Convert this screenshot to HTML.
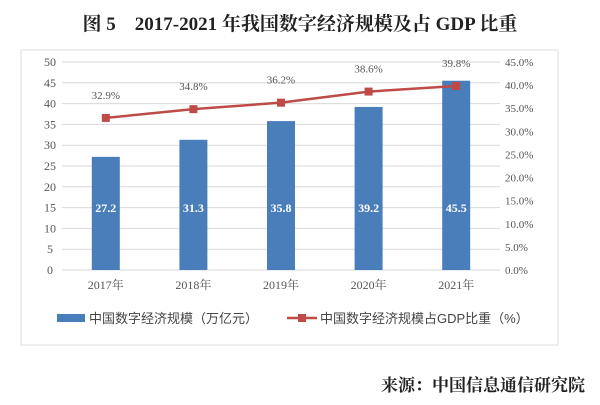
<!DOCTYPE html>
<html><head><meta charset="utf-8"><style>
body{margin:0;background:#fff;width:600px;height:400px;overflow:hidden;font-family:"Liberation Serif","Noto Serif CJK SC",serif}
</style></head><body>
<svg width="600" height="400">
<text x="300" y="30" text-anchor="middle" font-size="19" font-weight="bold" fill="#222" font-family="Liberation Serif, Noto Serif CJK SC, serif">图 5　2017-2021 年我国数字经济规模及占 GDP 比重</text>
<rect x="21" y="50" width="537" height="295" fill="#fff" stroke="#ddd"/>
<g id="grid"></g><g id="bars"></g><g id="line"></g><g id="labels"></g>
<g>
<rect x="57" y="314" width="28" height="8" fill="#4a7ebb"/>
<text x="89" y="323" font-size="13" fill="#444" font-family="Liberation Sans, Noto Sans CJK SC, sans-serif">中国数字经济规模（万亿元）</text>
<line x1="287" y1="318" x2="317" y2="318" stroke="#be4b48" stroke-width="2.5"/>
<rect x="298" y="314" width="8" height="8" fill="#be4b48"/>
<text x="320" y="323" font-size="13" fill="#444" font-family="Liberation Sans, Noto Sans CJK SC, sans-serif">中国数字经济规模占GDP比重（%）</text>
</g>
<text x="585" y="391" text-anchor="end" font-size="17" font-weight="bold" fill="#222" font-family="Noto Serif CJK SC, serif">来源：中国信息通信研究院</text>
</svg>
<script>
const categories=["2017年","2018年","2019年","2020年","2021年"];
const scaleValues=[27.2,31.3,35.8,39.2,45.5];
const shareValues=[32.9,34.8,36.2,38.6,39.8];
const leftTicks=[0,5,10,15,20,25,30,35,40,45,50];
const rightTicks=[0,5,10,15,20,25,30,35,40,45];
const NS="http://www.w3.org/2000/svg";
const x0=62,x1=500,yTop=62,yBot=270;
const yL=v=>yBot-v/50*(yBot-yTop);
const yR=v=>yBot-v/45*(yBot-yTop);
const band=(x1-x0)/categories.length;
const xc=i=>x0+band*(i+0.5);
function mk(t,a,p){const e=document.createElementNS(NS,t);for(const k in a)e.setAttribute(k,a[k]);p.appendChild(e);return e;}
const grid=document.getElementById('grid'),bars=document.getElementById('bars'),line=document.getElementById('line'),labels=document.getElementById('labels');
leftTicks.forEach(v=>{
 const l=mk('line',{x1:x0,x2:x1,y1:yL(v),y2:yL(v),stroke:'#d9d9d9'},grid);
 
 
 const t=mk('text',{x:50,y:yL(v)+4,'text-anchor':'middle','font-size':12,fill:'#555'},grid);
 t.textContent=v;
 
 
});
rightTicks.forEach(v=>{
 const t=mk('text',{x:505,y:yR(v)+4,'font-size':11,fill:'#555'},grid);
 t.textContent=v.toFixed(1)+'%';
 
 
});
categories.forEach((c,i)=>{
 const t=mk('text',{x:xc(i),y:289,'text-anchor':'middle','font-size':12,fill:'#555'},grid);
 t.textContent=c;
 
 
 const b=mk('rect',{x:xc(i)-14,y:yL(scaleValues[i]),width:28,height:yBot-yL(scaleValues[i]),fill:'#4a7ebb'},bars);
 
 
 const bl=mk('text',{x:xc(i),y:212,'text-anchor':'middle','font-size':12,'font-weight':'bold',fill:'#fff'},labels);
 bl.textContent=scaleValues[i].toFixed(1);
 
 
 const m=mk('rect',{x:xc(i)-4,y:yR(shareValues[i])-4,width:8,height:8,fill:'#be4b48'},labels);
 
 
 const pl=mk('text',{x:xc(i),y:yR(shareValues[i])-19,'text-anchor':'middle','font-size':11,fill:'#555'},labels);
 pl.textContent=shareValues[i].toFixed(1)+'%';
 
 
});
const pl=mk('polyline',{points:shareValues.map((v,i)=>xc(i)+','+yR(v)).join(' '),fill:'none',stroke:'#be4b48','stroke-width':2.5},line);


</script>
</body></html>
